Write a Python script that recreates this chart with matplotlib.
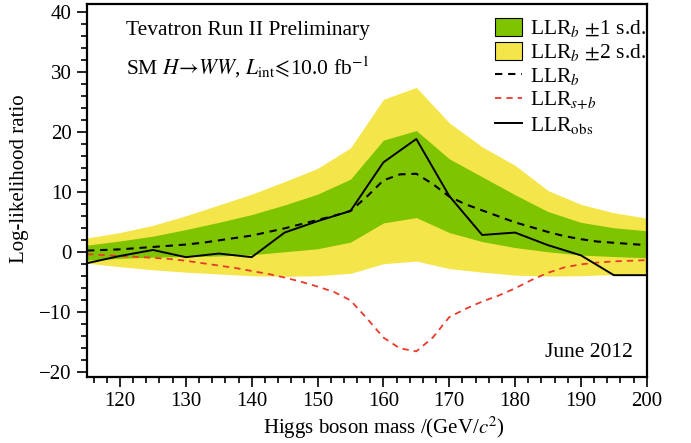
import numpy as np
import matplotlib.pyplot as plt
from matplotlib.patches import Patch
from matplotlib.lines import Line2D
from matplotlib.ticker import MultipleLocator

plt.rcParams['font.family'] = ['Liberation Serif', 'DejaVu Serif']
plt.rcParams['mathtext.fontset'] = 'stix'

# Higgs mass grid for the bands and the observed LLR
mass = [115, 120, 125, 130, 135, 140, 145, 150, 155, 160,
        165, 170, 175, 180, 185, 190, 195, 200]
llr_obs = [-1.8, -0.6, 0.4, -0.8, -0.2, -0.8, 3.3, 5.2, 6.9, 15.0,
           18.9, 9.4, 2.9, 3.3, 1.2, -0.5, -3.8, -3.8]
band1_lo = [-1.3, -1.0, -0.8, -0.7, -0.6, -0.4, 0.1, 0.6, 1.7, 4.9,
            5.8, 3.3, 1.8, 0.8, 0.1, -0.45, -0.7, -0.9]
band1_hi = [1.2, 1.9, 2.7, 3.8, 5.0, 6.3, 7.9, 9.7, 12.2, 18.7,
            20.3, 15.6, 12.6, 9.6, 6.8, 5.0, 4.1, 3.6]
band2_lo = [-1.8, -2.4, -2.9, -3.3, -3.6, -3.9, -4.0, -3.9, -3.5, -1.9,
            -1.45, -2.7, -3.3, -3.8, -3.95, -3.9, -3.7, -3.5]
band2_hi = [2.4, 3.3, 4.5, 6.1, 7.9, 9.7, 11.8, 14.0, 17.4, 25.5,
            27.5, 21.6, 17.6, 14.5, 10.3, 8.0, 6.6, 5.7]

# expected curves on a finer grid
mass_fine = [115, 117.5, 120, 122.5, 125, 127.5, 130, 132.5, 135, 137.5,
             140, 142.5, 145, 147.5, 150, 152.5, 155, 157.5, 160, 162.5,
             165, 167.5, 170, 172.5, 175, 177.5, 180, 182.5, 185, 187.5,
             190, 192.5, 195, 197.5, 200]
llr_b = [0.3, 0.4, 0.5, 0.7, 0.9, 1.1, 1.3, 1.6, 2.0, 2.4,
         2.8, 3.4, 4.0, 4.7, 5.4, 6.1, 6.9, 9.3, 12.0, 13.0,
         13.1, 11.4, 9.3, 8.0, 7.0, 6.0, 5.0, 4.2, 3.4, 2.7,
         2.2, 1.8, 1.6, 1.4, 1.2]
llr_sb = [-0.3, -0.45, -0.6, -0.75, -0.9, -1.1, -1.4, -1.8, -2.2, -2.6,
          -3.1, -3.6, -4.2, -4.9, -5.7, -6.6, -8.0, -11.0, -14.2, -16.0,
          -16.5, -14.2, -10.8, -9.4, -8.2, -7.2, -6.0, -4.6, -3.4, -2.5,
          -2.0, -1.7, -1.5, -1.4, -1.3]

green = '#7fc400'
yellow = '#f4e64a'
red = '#e83a2c'
dash = (0, (3.5, 2.8))

fig = plt.figure(figsize=(6.91, 4.43), dpi=100)
ax = fig.add_axes([0.126, 0.150, 0.810, 0.841])

ax.fill_between(mass, band2_lo, band2_hi, color=yellow, lw=0)
ax.fill_between(mass, band1_lo, band1_hi, color=green, lw=0)
ax.plot(mass_fine, llr_b, color='black', lw=1.5, ls=dash)
ax.plot(mass_fine, llr_sb, color=red, lw=1.3, ls=dash)
ax.plot(mass, llr_obs, color='black', lw=1.4)

ax.set_xlim(115, 200)
ax.set_ylim(-20.7, 41.4)
ax.xaxis.set_major_locator(MultipleLocator(10))
ax.xaxis.set_minor_locator(MultipleLocator(2))
ax.yaxis.set_major_locator(MultipleLocator(10))
ax.yaxis.set_minor_locator(MultipleLocator(2))
ax.tick_params(which='both', direction='out', top=False, right=False,
               labelsize=15, width=1.2, pad=4)
ax.tick_params(which='major', length=7)
ax.tick_params(which='minor', length=4)
for s in ax.spines.values():
    s.set_linewidth(1.6)

ax.set_xlabel(r'Higgs boson mass /(GeV/$c^2$)', fontsize=15)
ax.set_ylabel('Log-likelihood ratio', fontsize=15)
ax.xaxis.set_label_coords(0.531, -0.102)
ax.yaxis.set_label_coords(-0.103, 0.532)

ax.text(0.069, 0.93, 'Tevatron Run II Preliminary', transform=ax.transAxes,
        fontsize=15.5, va='center')
ax.text(0.069, 0.83,
        r'SM $H\!\rightarrow\!WW$, $L_{\rm int}\!\leqslant\!$10.0 fb$^{-1}$',
        transform=ax.transAxes, fontsize=15.5, va='center')
ax.text(0.975, 0.04, 'June 2012', transform=ax.transAxes,
        fontsize=15.5, ha='right', va='bottom')

handles = [
    Patch(facecolor=green, edgecolor='black', lw=0.8),
    Patch(facecolor=yellow, edgecolor='black', lw=0.8),
    Line2D([], [], color='black', lw=1.5, ls=dash),
    Line2D([], [], color=red, lw=1.3, ls=dash),
    Line2D([], [], color='black', lw=1.4),
]
labels = [r'LLR$_b$ $\pm$1 s.d.', r'LLR$_b$ $\pm$2 s.d.', r'LLR$_b$',
          r'LLR$_{s{+}b}$', r'LLR$_{\rm obs}$']
ax.legend(handles, labels, loc='upper right', bbox_to_anchor=(1.024, 1.0),
          frameon=False, fontsize=15.5, handlelength=1.25, handleheight=0.9,
          handletextpad=0.38, labelspacing=0.12, borderaxespad=0.25)

fig.savefig('out.png', dpi=100)
